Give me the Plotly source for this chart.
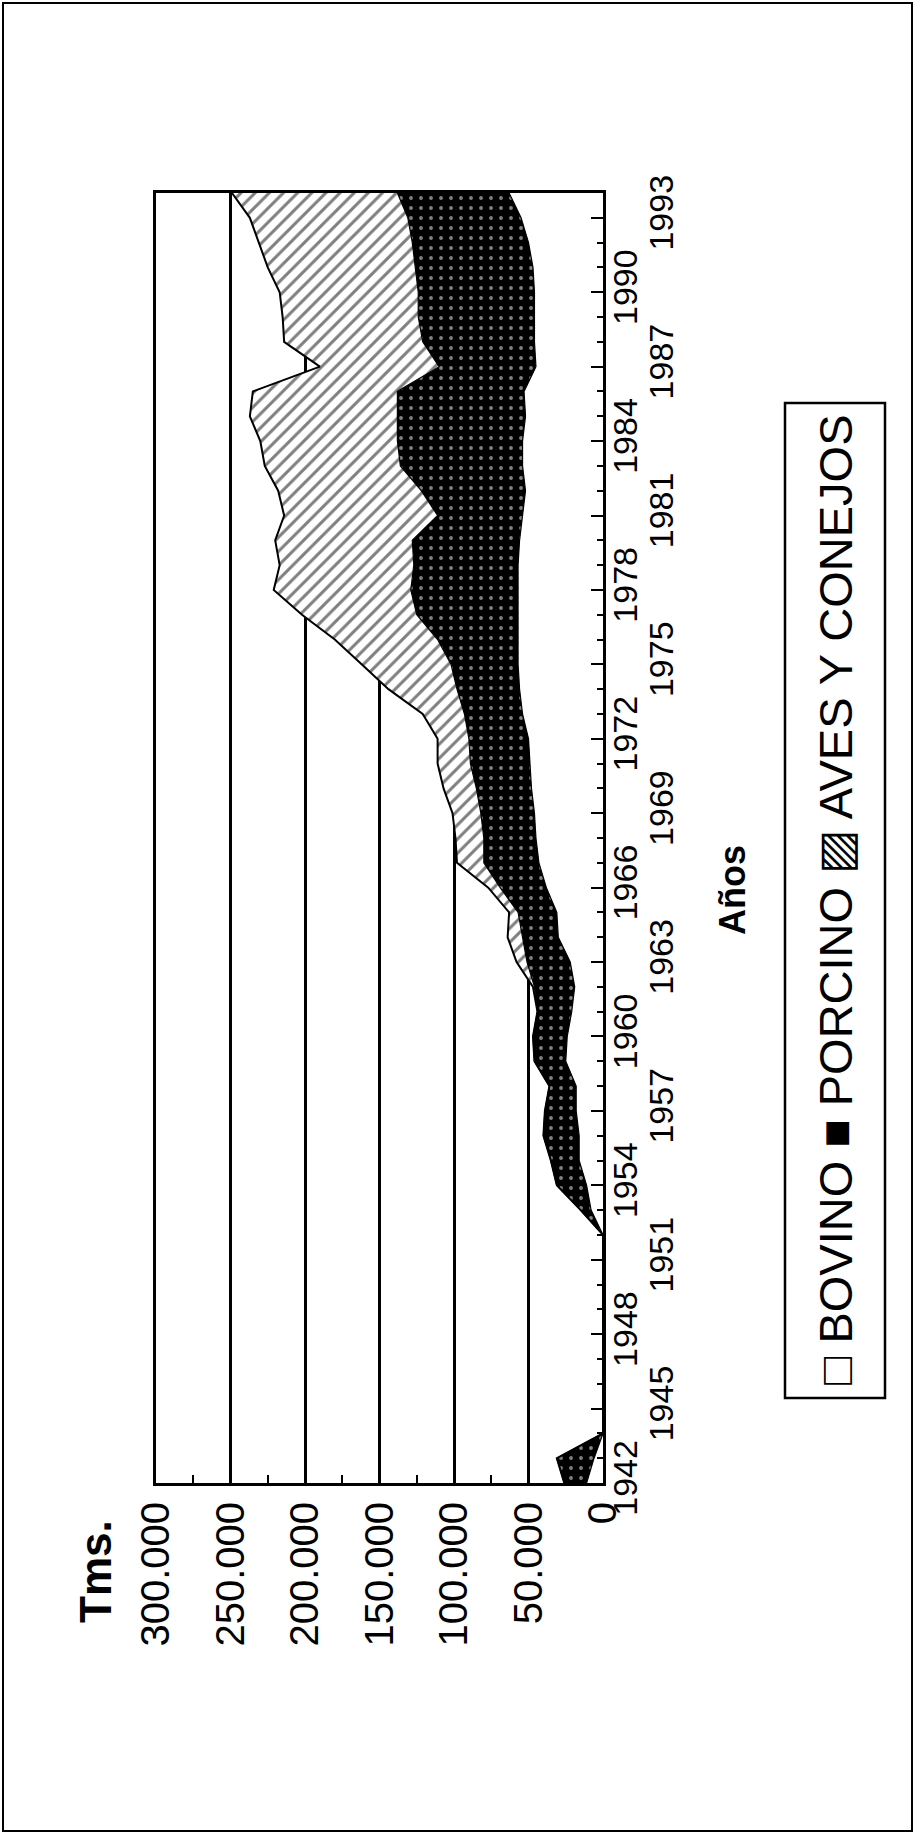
import plotly.graph_objects as go

# ---------------- data ----------------
years = list(range(1942, 1995))

bovino = [11000, 6000, 0, 0, 0, 0, 0, 0, 0, 0,
          0, 8000, 11000, 16000, 16000, 18000, 18000, 25000, 24000, 21000,
          19000, 22000, 30000, 31000, 38000, 43000, 45000, 46000, 48000, 49000,
          50000, 54000, 56000, 57000, 57000, 57000, 57000, 57000, 56000, 54000,
          52000, 54000, 54000, 52000, 53000, 45000, 46000, 46000, 46000, 47000,
          50000, 55000, 63000]

porcino = [15000, 25000, 0, 0, 0, 0, 0, 0, 0, 0,
           0, 7000, 20000, 19000, 24000, 21000, 18000, 21000, 23000, 23000,
           27000, 29000, 24000, 26000, 31000, 37000, 35000, 36000, 37000, 40000,
           40000, 39000, 42000, 45000, 54000, 68000, 72000, 70000, 72000, 57000,
           70000, 82000, 84000, 86000, 85000, 65000, 75000, 78000, 78000, 79000,
           78000, 76000, 75000]

aves = [0, 0, 0, 0, 0, 0, 0, 0, 0, 0,
        0, 0, 0, 0, 0, 0, 0, 0, 0, 0,
        1000, 7000, 10000, 6000, 8000, 18000, 19000, 19000, 22000, 22000,
        21000, 28000, 46000, 60000, 69000, 77000, 92000, 90000, 92000, 103000,
        96000, 91000, 92000, 99000, 97000, 80000, 93000, 91000, 93000, 99000,
        103000, 106000, 111000]

value_ticks = [0, 50000, 100000, 150000, 200000, 250000, 300000]
value_labels = ["0", "50.000", "100.000", "150.000", "200.000", "250.000", "300.000"]
minor_value_ticks = [25000, 75000, 125000, 175000, 225000, 275000]
series_names = ["BOVINO", "PORCINO", "AVES Y CONEJOS"]

# ---------------- layout geometry (pixels) ----------------
W, H = 915, 1834
PL, PR, PT, PB = 156, 603, 193, 1483   # plot area edges


def px(xp):
    return (xp - PL) / (PR - PL)


def py(yp):
    return (PB - yp) / (PB - PT)


FONT = "Liberation Sans, Arial, Helvetica, sans-serif"
NARROW = "Liberation Sans Narrow, Arial Narrow, Liberation Sans, Arial, sans-serif"

fig = go.Figure()

fig.add_trace(go.Scatter(
    x=bovino, y=years, name=series_names[0], mode="lines",
    stackgroup="one", orientation="h",
    line=dict(color="black", width=1.2),
    fillcolor="white",
    hoverinfo="skip"))

fig.add_trace(go.Scatter(
    x=porcino, y=years, name=series_names[1], mode="lines",
    stackgroup="one",
    line=dict(color="black", width=1.2),
    fillcolor="black",
    fillpattern=dict(shape=".", bgcolor="black", fgcolor="white",
                     size=10, solidity=0.12),
    hoverinfo="skip"))

fig.add_trace(go.Scatter(
    x=aves, y=years, name=series_names[2], mode="lines",
    stackgroup="one",
    line=dict(color="black", width=2),
    fillcolor="white",
    fillpattern=dict(shape="/", bgcolor="white", fgcolor="black",
                     size=10, solidity=0.3),
    hoverinfo="skip"))

# empty trace so the second (staggered label) year axis is drawn
fig.add_trace(go.Scatter(x=[None], y=[None], yaxis="y2", mode="lines",
                         showlegend=False, hoverinfo="skip"))

fig.update_layout(
    width=W, height=H,
    margin=dict(l=PL, r=W - PR, t=PT, b=H - PB, autoexpand=False),
    paper_bgcolor="white", plot_bgcolor="white",
    showlegend=False,
    font=dict(family=FONT, color="black"),
    xaxis=dict(
        range=[300000, 0],
        tickmode="array", tickvals=value_ticks, ticktext=value_labels,
        tickangle=-90, ticks="", ticklabelstandoff=0,
        tickfont=dict(family=FONT, size=40, color="black"),
        showgrid=True, gridcolor="black", gridwidth=3,
        showline=True, linecolor="black", linewidth=3, mirror=True,
        zeroline=False, automargin=False,
        minor=dict(tickmode="array", tickvals=minor_value_ticks,
                   ticks="inside", ticklen=8, tickwidth=2,
                   tickcolor="black", showgrid=False),
    ),
    yaxis=dict(
        range=[1942, 1994], side="right",
        tickmode="linear", tick0=1942, dtick=6,
        ticks="inside", ticklen=12, tickwidth=2, tickcolor="black",
        tickangle=-90, ticklabelstandoff=-10,
        tickfont=dict(family=NARROW, size=34, color="black"),
        showgrid=False, zeroline=False, automargin=False,
        showline=True, linecolor="black", linewidth=3, mirror=True,
        minor=dict(tickmode="linear", tick0=1942, dtick=1,
                   ticks="inside", ticklen=6, tickwidth=2,
                   tickcolor="black", showgrid=False),
    ),
    yaxis2=dict(
        range=[1942, 1994], side="right", overlaying="y", anchor="x",
        tickmode="linear", tick0=1945, dtick=6,
        ticks="inside", ticklen=12, tickwidth=2, tickcolor="black",
        tickangle=-90, ticklabelstandoff=35,
        tickfont=dict(family=NARROW, size=34, color="black"),
        showgrid=False, zeroline=False, showline=False, automargin=False,
    ),
)

annotations = [
    dict(text="<b>Tms.</b>", x=px(95), y=py(1572), xref="paper", yref="paper",
         xanchor="center", yanchor="middle",
         textangle=-90, showarrow=False, font=dict(family=FONT, size=44)),
    dict(text="<b>Años</b>", x=px(732), y=py(890), xref="paper", yref="paper",
         xanchor="center", yanchor="middle",
         textangle=-90, showarrow=False, font=dict(family=FONT, size=36)),
    dict(text="\u25a1 " + series_names[0] + " \u25a0 " + series_names[1] +
         " \u25a8 " + series_names[2],
         x=px(835), y=py(900), xref="paper", yref="paper",
         xanchor="center", yanchor="middle",
         textangle=-90, showarrow=False, font=dict(family=FONT, size=47)),
]
fig.update_layout(annotations=annotations)

shapes = [
    # legend frame
    dict(type="rect", xref="paper", yref="paper",
         x0=px(785), x1=px(885), y0=py(1398), y1=py(403),
         line=dict(color="black", width=2.5), fillcolor="rgba(0,0,0,0)"),
    # outer frame
    dict(type="rect", xref="paper", yref="paper",
         x0=px(3), x1=px(912), y0=py(1831), y1=py(3),
         line=dict(color="black", width=2), fillcolor="rgba(0,0,0,0)"),
]
fig.update_layout(shapes=shapes)

fig.write_html("out.html",
               config={"displayModeBar": False},
               post_script="document.body.style.margin='0px';"
                           "document.body.style.overflow='hidden';")
